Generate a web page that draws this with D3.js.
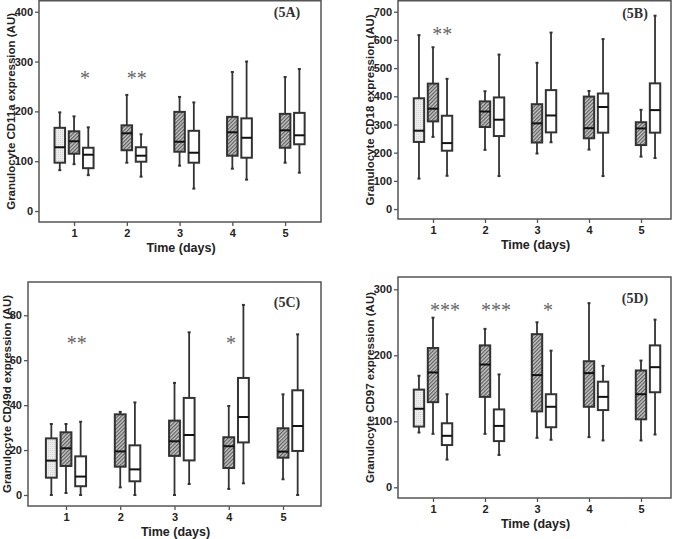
<!DOCTYPE html>
<html>
<head>
<meta charset="utf-8">
<script src="https://cdn.jsdelivr.net/npm/d3@7"></script>
<style>
  html, body { margin: 0; padding: 0; background: #fff; }
  svg { display: block; }
</style>
</head>
<body>
<svg id="chart" width="676" height="539"></svg>
<script>
// ---------------- DATA ----------------
// Each box: [lower whisker, Q1, median, Q3, upper whisker]
const days = [1, 2, 3, 4, 5];
const dayTickLabels = ["1", "2", "3", "4", "5"];

// Panel 5A: CD11a
const cd11aYTicks = [0, 100, 200, 300, 400];
const cd11aGray = [[82, 97, 128, 167, 198]];               // day 1 only
const cd11aHatched = [[94, 115, 140, 160, 190], [97, 122, 156, 172, 233], [91, 119, 139, 199, 229], [85, 111, 158, 189, 279], [97, 127, 162, 195, 269]];
const cd11aWhite = [[72, 86, 113, 127, 168], [69, 99, 111, 128, 154], [45, 97, 117, 161, 218], [63, 107, 147, 186, 300], [77, 134, 152, 197, 285]];
const cd11aStars = [["*", 1, 272], ["**", 2, 272]];

// Panel 5B: CD18
const cd18YTicks = [0, 100, 200, 300, 400, 500, 600, 700];
const cd18Gray = [[108, 238, 278, 393, 617]];
const cd18Hatched = [[256, 311, 356, 445, 574], [210, 291, 346, 382, 418], [197, 236, 304, 372, 519], [211, 251, 287, 399, 419], [186, 227, 286, 308, 352]];
const cd18White = [[118, 207, 234, 331, 462], [117, 259, 317, 396, 548], [237, 272, 332, 422, 626], [117, 271, 362, 410, 603], [181, 271, 351, 446, 686]];
const cd18Stars = [["**", 1, 629]];

// Panel 5C: CD49d
const cd49dYTicks = [0, 20, 40, 60, 80];
const cd49dGray = [[0, 7.7, 15.3, 25.2, 31.6]];
const cd49dHatched = [[0.9, 12.9, 20.8, 27.9, 31.6], [3.4, 12.6, 19.4, 35.9, 37], [0, 17.4, 23.9, 33.1, 49.9], [2.7, 12, 21.7, 25.7, 39.6], [7, 16.6, 19.3, 29.7, 44.8]];
const cd49dWhite = [[0, 3.9, 8.2, 17.2, 32.6], [0, 6.1, 11.4, 22.1, 41.2], [4.9, 15.4, 26.7, 43.2, 72.4], [5.2, 23.4, 34.7, 52.1, 84.6], [0, 19.6, 30.7, 46.6, 71.5]];
const cd49dStars = [["**", 1, 68.6], ["*", 4, 68.6]];

// Panel 5D: CD97
const cd97YTicks = [0, 100, 200, 300];
const cd97Gray = [[83, 92, 119, 148, 169]];
const cd97Hatched = [[81, 129, 174, 211, 257], [81, 137, 186, 215, 240], [75, 115, 170, 232, 250], [76, 122, 173, 191, 279], [71, 103, 141, 177, 192]];
const cd97White = [[42, 64, 78, 97, 141], [49, 70, 93, 118, 171], [72, 91, 122, 141, 207], [71, 117, 137, 160, 184], [80, 144, 182, 215, 254]];
const cd97Stars = [["***", 1, 273], ["***", 2, 273], ["*", 3, 273]];

const panelTags = ["(5A)", "(5B)", "(5C)", "(5D)"];
const yTitles = ["Granulocyte CD11a expression (AU)", "Granulocyte CD18 expression (AU)", "Granulocyte CD49d expression (AU)", "Granulocyte CD97 expression (AU)"];
const xTitle = "Time (days)";

// ---------------- LAYOUT ----------------
const panels = [
  { tag: panelTags[0], yTitle: yTitles[0], ticks: cd11aYTicks, gray: cd11aGray, hatched: cd11aHatched, white: cd11aWhite, stars: cd11aStars,
    frame: { l: 39, r: 321, t: 0.75, b: 222 }, xDom: [0.336, 5.68], yDom: [-22, 422], yTitleX: 11, tagPos: [287, 17], starOff: [0.21, 0.19] },
  { tag: panelTags[1], yTitle: yTitles[1], ticks: cd18YTicks, gray: cd18Gray, hatched: cd18Hatched, white: cd18White, stars: cd18Stars,
    frame: { l: 398, r: 671, t: 0.75, b: 219 }, xDom: [0.327, 5.577], yDom: [-35.3, 739], yTitleX: 370, tagPos: [635, 18], starOff: [0.18] },
  { tag: panelTags[2], yTitle: yTitles[2], ticks: cd49dYTicks, gray: cd49dGray, hatched: cd49dHatched, white: cd49dWhite, stars: cd49dStars,
    frame: { l: 28, r: 321, t: 282, b: 506 }, xDom: [0.30, 5.70], yDom: [-4.9, 94.8], yTitleX: 7, tagPos: [287, 307], starOff: [0.2, 0.04] },
  { tag: panelTags[3], yTitle: yTitles[3], ticks: cd97YTicks, gray: cd97Gray, hatched: cd97Hatched, white: cd97White, stars: cd97Stars,
    frame: { l: 398, r: 671, t: 277, b: 498 }, xDom: [0.327, 5.577], yDom: [-16.2, 318.6], yTitleX: 370, tagPos: [635, 303], starOff: [0.23, 0.21, 0.21] }
];

const SANS = "'Liberation Sans', Arial, Helvetica, sans-serif";
const SERIF = "'Liberation Serif', 'Times New Roman', Times, serif";
const boxOffset = 0.27;
const boxHalf = 0.1;
const frameColor = "#555";
const boxStroke = "#333";

const svg = d3.select("#chart");
svg.append("rect").attr("width", 676).attr("height", 539).attr("fill", "#fff");

// patterns
const defs = svg.append("defs");
const hatch = defs.append("pattern").attr("id", "hatch").attr("patternUnits", "userSpaceOnUse")
  .attr("width", 2.6).attr("height", 2.6).attr("patternTransform", "rotate(45)");
hatch.append("rect").attr("width", 2.6).attr("height", 2.6).attr("fill", "#c8c8c8");
hatch.append("line").attr("x1", 0.6).attr("y1", 0).attr("x2", 0.6).attr("y2", 2.6).attr("stroke", "#555").attr("stroke-width", 1.1);

const dots = defs.append("pattern").attr("id", "dots").attr("patternUnits", "userSpaceOnUse")
  .attr("width", 2).attr("height", 2);
dots.append("rect").attr("width", 2).attr("height", 2).attr("fill", "#ececec");
dots.append("rect").attr("width", 1).attr("height", 1).attr("fill", "#d4d4d4");

panels.forEach(p => {
  const f = p.frame;
  const x = d3.scaleLinear().domain(p.xDom).range([f.l, f.r]);
  const y = d3.scaleLinear().domain(p.yDom).range([f.b, f.t]);
  const g = svg.append("g");

  // y axis ticks
  const yAxis = d3.axisLeft(y).tickValues(p.ticks).tickSize(4).tickPadding(2).tickFormat(d3.format("d"));
  const ya = g.append("g").attr("transform", `translate(${f.l},0)`).call(yAxis);
  ya.select(".domain").remove();
  ya.selectAll("line").attr("stroke", frameColor).attr("stroke-width", 1.3);
  ya.selectAll("text").attr("font-family", SANS).attr("font-size", 11).attr("font-weight", "bold").attr("fill", "#222");

  // x axis ticks
  const xAxis = d3.axisBottom(x).tickValues(days).tickSize(4).tickPadding(2).tickFormat((d, i) => dayTickLabels[i]);
  const xa = g.append("g").attr("transform", `translate(0,${f.b})`).call(xAxis);
  xa.select(".domain").remove();
  xa.selectAll("line").attr("stroke", frameColor).attr("stroke-width", 1.3);
  xa.selectAll("text").attr("font-family", SANS).attr("font-size", 11).attr("font-weight", "bold").attr("fill", "#222")
    .attr("dy", null).attr("y", 11).attr("dominant-baseline", "central");

  // frame
  g.append("rect").attr("x", f.l).attr("y", f.t).attr("width", f.r - f.l).attr("height", f.b - f.t)
    .attr("fill", "none").attr("stroke", frameColor).attr("stroke-width", 1.5);

  // titles
  g.append("text").attr("x", (f.l + f.r) / 2 + 1).attr("y", f.b + 26).attr("text-anchor", "middle")
    .attr("dominant-baseline", "central").attr("font-family", SANS).attr("font-size", 12.5).attr("font-weight", "bold")
    .attr("fill", "#222").text(xTitle);
  g.append("text").attr("transform", `translate(${p.yTitleX},${(f.t + f.b) / 2}) rotate(-90)`)
    .attr("text-anchor", "middle").attr("dominant-baseline", "central")
    .attr("font-family", SANS).attr("font-size", 11.5).attr("font-weight", "bold").attr("fill", "#222").text(p.yTitle);

  // panel tag
  g.append("text").attr("x", p.tagPos[0]).attr("y", p.tagPos[1]).attr("text-anchor", "middle")
    .attr("font-family", SERIF).attr("font-size", 14).attr("font-weight", "bold").attr("fill", "#333").text(p.tag);

  // boxes
  const boxes = [];
  p.gray.forEach((s, i) => boxes.push({ day: days[i], off: -boxOffset, s, fill: "url(#dots)" }));
  p.hatched.forEach((s, i) => boxes.push({ day: days[i], off: 0, s, fill: "url(#hatch)" }));
  p.white.forEach((s, i) => boxes.push({ day: days[i], off: boxOffset, s, fill: "#fff" }));

  const bg = g.selectAll("g.box").data(boxes).enter().append("g").attr("class", "box");
  bg.each(function(b) {
    const sel = d3.select(this);
    const cx = x(b.day + b.off);
    const x0 = x(b.day + b.off - boxHalf), x1 = x(b.day + b.off + boxHalf);
    const [mn, q1, md, q3, mx] = b.s;
    sel.append("line").attr("x1", cx).attr("x2", cx).attr("y1", y(mx)).attr("y2", y(q3)).attr("stroke", boxStroke).attr("stroke-width", 1.8);
    sel.append("line").attr("x1", cx).attr("x2", cx).attr("y1", y(q1)).attr("y2", y(mn)).attr("stroke", boxStroke).attr("stroke-width", 1.8);
    [mx, mn].forEach(v => sel.append("line").attr("x1", cx - 1.5).attr("x2", cx + 1.5).attr("y1", y(v)).attr("y2", y(v))
      .attr("stroke", boxStroke).attr("stroke-width", 2));
    sel.append("rect").attr("x", x0).attr("y", y(q3)).attr("width", x1 - x0).attr("height", y(q1) - y(q3))
      .attr("fill", b.fill).attr("stroke", boxStroke).attr("stroke-width", 2);
    sel.append("line").attr("x1", x0).attr("x2", x1).attr("y1", y(md)).attr("y2", y(md)).attr("stroke", "#111").attr("stroke-width", 2);
  });

  // significance stars
  p.stars.forEach((st, i) => {
    g.append("text").attr("x", x(st[1] + p.starOff[i])).attr("y", y(st[2]) + 9.5).attr("text-anchor", "middle")
      .attr("font-family", SERIF).attr("font-size", 20).attr("fill", "#666").text(st[0]);
  });
});
</script>
</body>
</html>
